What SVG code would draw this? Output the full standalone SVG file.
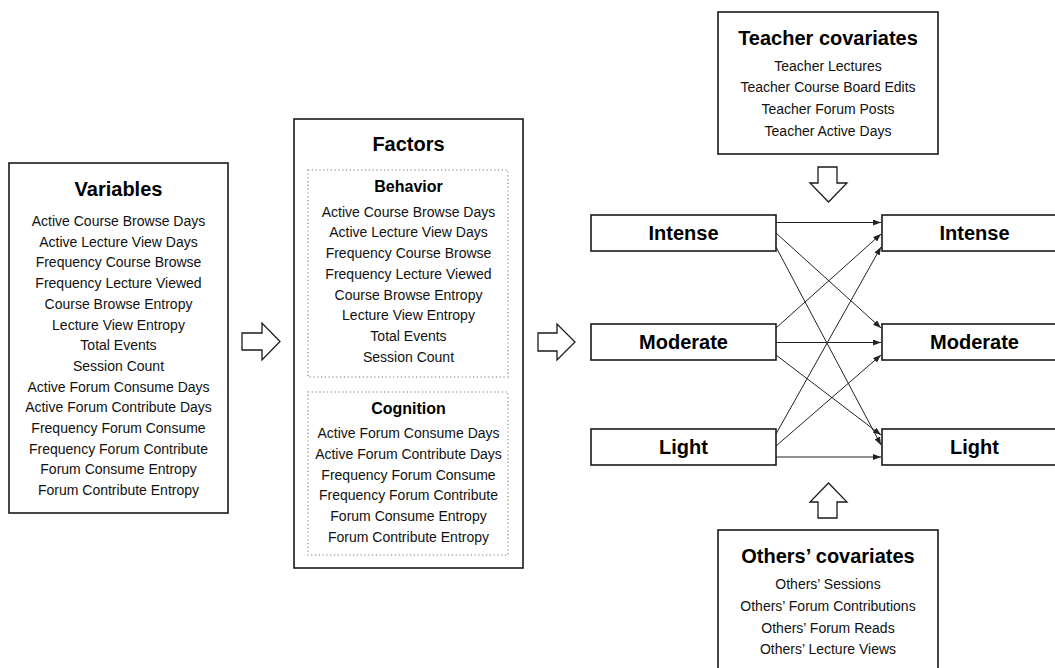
<svg xmlns="http://www.w3.org/2000/svg" width="1055" height="668" viewBox="0 0 1055 668">
<style>
.box{fill:#fff;stroke:#1a1a1a;stroke-width:1.6}
.dot{fill:none;stroke:#777;stroke-width:1.1;stroke-dasharray:1.2,2.6}
.t{font-family:"Liberation Sans",Arial,sans-serif;font-size:14px;fill:#111;text-anchor:middle}
.h{font-family:"Liberation Sans",Arial,sans-serif;font-size:20px;font-weight:bold;fill:#000;text-anchor:middle}
.h2{font-family:"Liberation Sans",Arial,sans-serif;font-size:16px;font-weight:bold;fill:#000;text-anchor:middle}
.blk{fill:#fff;stroke:#1a1a1a;stroke-width:1.3;stroke-linejoin:miter}
.ln{stroke:#222;stroke-width:1;fill:none;marker-end:url(#ah)}
</style>
<defs>
<marker id="ah" viewBox="0 0 8 6" refX="8" refY="3" markerWidth="8" markerHeight="6" markerUnits="userSpaceOnUse" orient="auto">
<path d="M0,0 L8,3 L0,6 z" fill="#222"/>
</marker>
</defs>
<rect width="1055" height="668" fill="#fff"/>

<g id="variables">
<rect class="box" x="9" y="163" width="219" height="350"/>
<text class="h" x="118.5" y="196">Variables</text>
<text class="t" x="118.5" y="226">Active Course Browse Days</text>
<text class="t" x="118.5" y="246.7">Active Lecture View Days</text>
<text class="t" x="118.5" y="267.4">Frequency Course Browse</text>
<text class="t" x="118.5" y="288.1">Frequency Lecture Viewed</text>
<text class="t" x="118.5" y="308.8">Course Browse Entropy</text>
<text class="t" x="118.5" y="329.5">Lecture View Entropy</text>
<text class="t" x="118.5" y="350.2">Total Events</text>
<text class="t" x="118.5" y="370.9">Session Count</text>
<text class="t" x="118.5" y="391.6">Active Forum Consume Days</text>
<text class="t" x="118.5" y="412.3">Active Forum Contribute Days</text>
<text class="t" x="118.5" y="433">Frequency Forum Consume</text>
<text class="t" x="118.5" y="453.7">Frequency Forum Contribute</text>
<text class="t" x="118.5" y="474.4">Forum Consume Entropy</text>
<text class="t" x="118.5" y="495.1">Forum Contribute Entropy</text>
</g>

<g id="arrow-1">
<polygon class="blk" points="242,333 262,333 262,323 280,341.5 262,360 262,350 242,350"/>
</g>

<g id="factors">
<rect class="box" x="294" y="119" width="229" height="449"/>
<text class="h" x="408.5" y="151">Factors</text>
<rect class="dot" x="308" y="170" width="200" height="207"/>
<text class="h2" x="408.5" y="191.5">Behavior</text>
<text class="t" x="408.5" y="216.7">Active Course Browse Days</text>
<text class="t" x="408.5" y="237.4">Active Lecture View Days</text>
<text class="t" x="408.5" y="258.1">Frequency Course Browse</text>
<text class="t" x="408.5" y="278.8">Frequency Lecture Viewed</text>
<text class="t" x="408.5" y="299.5">Course Browse Entropy</text>
<text class="t" x="408.5" y="320.2">Lecture View Entropy</text>
<text class="t" x="408.5" y="340.9">Total Events</text>
<text class="t" x="408.5" y="361.6">Session Count</text>
<rect class="dot" x="308" y="392" width="200" height="163"/>
<text class="h2" x="408.5" y="413.5">Cognition</text>
<text class="t" x="408.5" y="438.3">Active Forum Consume Days</text>
<text class="t" x="408.5" y="459">Active Forum Contribute Days</text>
<text class="t" x="408.5" y="479.7">Frequency Forum Consume</text>
<text class="t" x="408.5" y="500.4">Frequency Forum Contribute</text>
<text class="t" x="408.5" y="521.1">Forum Consume Entropy</text>
<text class="t" x="408.5" y="541.8">Forum Contribute Entropy</text>
</g>

<g id="arrow-2">
<polygon class="blk" points="538,333 557,333 557,324 575,342 557,360 557,351 538,351"/>
</g>

<g id="teacher">
<rect class="box" x="718" y="12" width="220" height="142"/>
<text class="h" x="828" y="44.5">Teacher covariates</text>
<text class="t" x="828" y="70.7">Teacher Lectures</text>
<text class="t" x="828" y="92.4">Teacher Course Board Edits</text>
<text class="t" x="828" y="114.1">Teacher Forum Posts</text>
<text class="t" x="828" y="135.8">Teacher Active Days</text>
</g>

<g id="arrow-down">
<polygon class="blk" points="818,167 837,167 837,183 847,183 828.5,202 810,183 818,183"/>
</g>

<g id="others">
<rect class="box" x="718" y="530" width="220" height="150"/>
<text class="h" x="828" y="563">Others’ covariates</text>
<text class="t" x="828" y="589.3">Others’ Sessions</text>
<text class="t" x="828" y="611">Others’ Forum Contributions</text>
<text class="t" x="828" y="632.7">Others’ Forum Reads</text>
<text class="t" x="828" y="654.4">Others’ Lecture Views</text>
</g>

<g id="arrow-up">
<polygon class="blk" points="828.5,483 847,502 837,502 837,518 818,518 818,502 810,502"/>
</g>

<g id="src-intense"><rect class="box" x="591" y="215" width="185" height="36"/><text class="h" x="683.5" y="240">Intense</text></g>
<g id="src-moderate"><rect class="box" x="591" y="324" width="185" height="36"/><text class="h" x="683.5" y="349">Moderate</text></g>
<g id="src-light"><rect class="box" x="591" y="429" width="185" height="36"/><text class="h" x="683.5" y="454">Light</text></g>
<g id="dst-intense"><rect class="box" x="882" y="215" width="185" height="36"/><text class="h" x="974.5" y="240">Intense</text></g>
<g id="dst-moderate"><rect class="box" x="882" y="324" width="185" height="36"/><text class="h" x="974.5" y="349">Moderate</text></g>
<g id="dst-light"><rect class="box" x="882" y="429" width="185" height="36"/><text class="h" x="974.5" y="454">Light</text></g>

<g id="connectors">
<line class="ln" x1="776" y1="222.5" x2="881" y2="222.5"/>
<line class="ln" x1="776" y1="233" x2="881" y2="328"/>
<line class="ln" x1="776" y1="247" x2="881" y2="445"/>
<line class="ln" x1="776" y1="328" x2="881" y2="234"/>
<line class="ln" x1="776" y1="342.5" x2="881" y2="342.5"/>
<line class="ln" x1="776" y1="355" x2="881" y2="435"/>
<line class="ln" x1="776" y1="434" x2="881" y2="247"/>
<line class="ln" x1="776" y1="446" x2="881" y2="355"/>
<line class="ln" x1="776" y1="457" x2="881" y2="457"/>
</g>
</svg>
